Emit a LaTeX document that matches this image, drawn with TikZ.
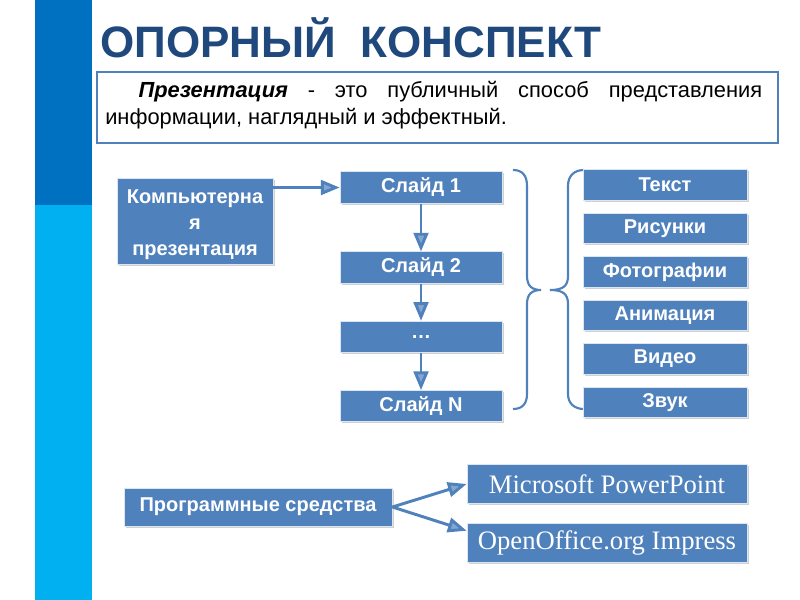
\documentclass[tikz,border=0pt]{standalone}
\usepackage{fontspec}
\setmainfont{Liberation Sans}
\newfontfamily\timesfont{Liberation Serif}
\usetikzlibrary{arrows.meta,shadows,positioning}
\definecolor{boxblue}{RGB}{79,129,189}
\definecolor{titleblue}{RGB}{31,73,125}
\definecolor{bardark}{RGB}{0,112,192}
\definecolor{barlight}{RGB}{0,176,240}
\tikzset{
  block/.style={fill=boxblue, draw=white!80!boxblue, line width=0.6pt, text=white,
    font=\fontsize{15}{19.5}\selectfont\bfseries, inner sep=2pt,
    drop shadow={shadow xshift=1.2pt, shadow yshift=-1.2pt, fill=black!30, opacity=0.6}},
  slide/.style={block, minimum width=121.5pt, minimum height=23.5pt},
  item/.style={block, minimum width=123pt, minimum height=23pt},
  prog/.style={block, minimum width=210pt, minimum height=29pt, font=\timesfont\fontsize{20}{24}\selectfont},
  link/.style={draw=boxblue, line width=2.2pt, -{Triangle[length=14pt,width=11pt,fill=boxblue!70!white]}},
  curly/.style={draw=boxblue, line width=1.6pt}
}
\begin{document}
\begin{tikzpicture}[x=0.75pt,y=-0.75pt,node distance=32.6pt]
	\useasboundingbox (0,0) rectangle (800,600);
	\fill[white] (0,0) rectangle (800,600);
	% side bar
	\fill[bardark] (35,0) rectangle (92,205);
	\fill[barlight] (35,205) rectangle (92,600);
	\node[anchor=base west, text=titleblue, font=\fontsize{33}{40}\selectfont\bfseries, inner sep=0] (title) at (100,57) {ОПОРНЫЙ\ \ КОНСПЕКТ};
	\node[draw=boxblue, line width=1.2pt, fill=white, minimum width=510.75pt, minimum height=53.25pt] (def) at (437.5,107.5) {};
	\node[anchor=north west, text width=492.75pt, align=justify, inner sep=0, font=\fontsize{16.4}{20.25}\selectfont] (deftext) at (105,81) {\hspace*{25pt}\textbf{\textit{Презентация}} - это публичный способ представления информации, наглядный и эффектный.};
	% slides
	\node[block, align=center, minimum width=117pt, minimum height=65pt] (comp) at (195,221.5) {\rule{0pt}{15pt}Компьютерна\\я\\презентация};
	\node[slide] (s1) at (421,187.5) {Слайд 1};
	\node[slide] (s2) [node distance=60pt, below of=s1] {Слайд 2};
	\node[slide] (s3) [node distance=52pt, below of=s2] {…};
	\node[slide] (sN) [node distance=52pt, below of=s3] {Слайд N};
	\draw[link] (comp.east |- s1.west) -- (s1.west);
	\draw[link] (s1) -- (s2);
	\draw[link] (s2) -- (s3);
	\draw[link] (s3) -- (sN);
	% braces
	\draw[curly] (513,170) .. controls (522,170) and (527,175) .. (527,186) -- (527,276) .. controls (527,286) and (532,290) .. (541,290) .. controls (532,290) and (527,294) .. (527,304) -- (527,394) .. controls (527,404) and (522,409) .. (513,409);
	\draw[curly] (584,170) .. controls (575,170) and (568,175) .. (568,186) -- (568,276) .. controls (568,286) and (563,290) .. (550,290) .. controls (563,290) and (568,294) .. (568,304) -- (568,394) .. controls (568,404) and (575,409) .. (584,409);
	% contents
	\node[item] (text) at (665,185) {Текст};
	\node[item] (pics) [below of=text] {Рисунки};
	\node[item] (photo) [below of=pics] {Фотографии};
	\node[item] (anim) [below of=photo] {Анимация};
	\node[item] (video) [below of=anim] {Видео};
	\node[item] (sound) [below of=video] {Звук};
	% software
	\node[block, minimum width=201pt, minimum height=28.5pt] (soft) at (258,507) {Программные средства};
	\node[prog] (ms) at (607,484) {Microsoft PowerPoint};
	\node[prog] (oo) at (607,543) {OpenOffice.org Impress};
	\draw[link] (soft.east) -- (ms.west);
	\draw[link] (soft.east) -- (oo.175);
\end{tikzpicture}
\end{document}
